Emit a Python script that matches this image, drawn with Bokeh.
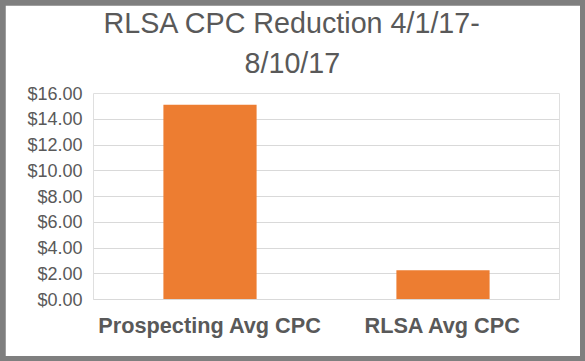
from bokeh.plotting import figure
from bokeh.layouts import column
from bokeh.models import (ColumnDataSource, FactorRange, Range1d, NumeralTickFormatter,
                          FixedTicker, Title)
from bokeh.embed import file_html
from bokeh.resources import INLINE

categories = ["Prospecting Avg CPC", "RLSA Avg CPC"]
values = [15.13, 2.27]
y_ticks = [0, 2, 4, 6, 8, 10, 12, 14, 16]
title_lines = ["RLSA CPC Reduction 4/1/17-", "8/10/17"]

TEXT = "#595959"
FONT = "Liberation Sans"

p = figure(width=575, height=351, output_backend="svg", toolbar_location=None,
           x_range=FactorRange(factors=categories, range_padding=0),
           y_range=Range1d(0, 16),
           min_border_left=88, min_border_right=21, min_border_top=88, min_border_bottom=57)
p.title.text = ""
p.outline_line_color = None
p.background_fill_color = "white"
p.border_fill_color = "white"

src = ColumnDataSource(dict(cat=categories, val=values))
p.vbar(x="cat", top="val", width=0.4, source=src, fill_color="#ed7d31", line_color=None)

p.xgrid.grid_line_color = None
p.ygrid.grid_line_color = "#d9d9d9"
p.ygrid.grid_line_width = 1

p.yaxis.ticker = FixedTicker(ticks=y_ticks)
p.yaxis.formatter = NumeralTickFormatter(format="$0.00")
p.yaxis.axis_line_color = None
p.yaxis.major_tick_line_color = None
p.yaxis.minor_tick_line_color = None
p.yaxis.major_tick_out = 0
p.yaxis.major_tick_in = 0
p.yaxis.major_label_standoff = 11
p.yaxis.major_label_text_font = FONT
p.yaxis.major_label_text_font_size = "18px"
p.yaxis.major_label_text_color = TEXT

p.xaxis.axis_line_color = "#d9d9d9"
p.xaxis.major_tick_line_color = None
p.xaxis.major_tick_out = 0
p.xaxis.major_tick_in = 0
p.xaxis.major_label_standoff = 13
p.xaxis.major_label_text_font = FONT
p.xaxis.major_label_text_font_size = "21.7px"
p.xaxis.major_label_text_font_style = "bold"
p.xaxis.major_label_text_color = TEXT

# second line nearest the plot, then first line above it
for txt, standoff, off in [(title_lines[1], 30, 151), (title_lines[0], -18, 10)]:
    p.add_layout(Title(text=txt, align="left", text_font=FONT,
                       text_font_size="28.7px", text_font_style="normal",
                       text_color=TEXT, standoff=standoff, offset=off), "above")

layout = column(p, styles={"background-color": "#7f7f7f", "padding": "5px"})

open("out.html", "w").write(file_html(layout, INLINE))
